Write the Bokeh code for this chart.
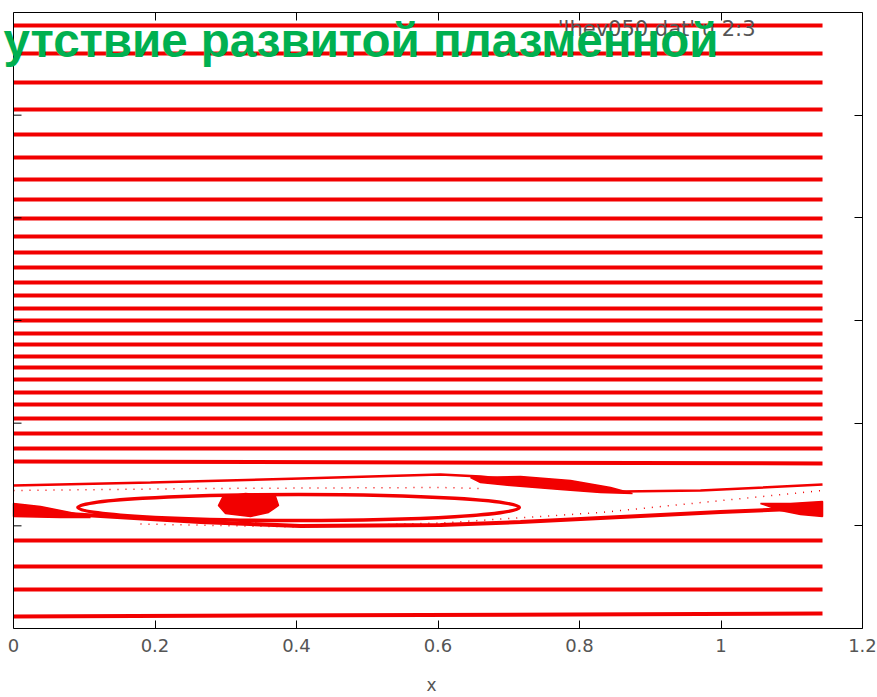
from bokeh.plotting import figure
from bokeh.models import LinearAxis, Range1d, Label, FixedTicker, Span
from bokeh.embed import file_html
from bokeh.resources import INLINE

# ---------------- data ----------------
X_TICKS = [0, 0.2, 0.4, 0.6, 0.8, 1.0, 1.2]
Y_TICKS = [0.2, 0.4, 0.6, 0.8, 1.0]

# extent of the traced field lines in x
x_start = 0.0
x_end = 1.1435

# y of each open field line at the left and right ends
line_y_left = [1.1747, 1.1202, 1.0637, 1.0111, 0.9624, 0.9176, 0.8747, 0.8357,
               0.7987, 0.7637, 0.7325, 0.7033, 0.6740, 0.6487, 0.6234, 0.6000,
               0.5747, 0.5533, 0.5299, 0.5085, 0.4851, 0.4598, 0.4364, 0.4091,
               0.3799, 0.3507, 0.3253, 0.1714, 0.1208, 0.0760, 0.0234]
line_y_right = [1.1747, 1.1202, 1.0637, 1.0111, 0.9624, 0.9176, 0.8747, 0.8357,
                0.7987, 0.7637, 0.7325, 0.7033, 0.6740, 0.6487, 0.6234, 0.6000,
                0.5747, 0.5533, 0.5299, 0.5085, 0.4851, 0.4598, 0.4364, 0.4091,
                0.3799, 0.3507, 0.3214, 0.1714, 0.1208, 0.0760, 0.0292]

# upper bounding curve of the island chain
upper_x = [0.0, 0.1936, 0.4057, 0.6035, 0.6601, 0.7731, 0.8580, 0.9710, 1.1435]
upper_y = [0.2788, 0.2844, 0.2922, 0.3000, 0.2961, 0.2805, 0.2669, 0.2688, 0.2805]

# lower bounding curve of the island chain
lower_x = [0.0, 0.1230, 0.2643, 0.4057, 0.6035, 0.7166, 0.8580, 0.9993, 1.1435]
lower_y = [0.2299, 0.2192, 0.2075, 0.1997, 0.2016, 0.2075, 0.2172, 0.2270, 0.2353]

# separatrix (sparse dotted points)
sep_up_x = [0.0, 0.2643, 0.6035, 0.6601]
sep_up_y = [0.2688, 0.2727, 0.2747, 0.2727]
sep_lo_x = [0.1795, 0.4057, 0.6035, 0.8297, 1.1435]
sep_lo_y = [0.2035, 0.1977, 0.2055, 0.2259, 0.2688]

# main island (O-point and size)
island_x = [0.4030]
island_y = [0.2357]
island_w = [0.6240]
island_h = [0.0507]

# chaotic clusters (outlines)
blob_in_x = [0.2954, 0.3279, 0.3703, 0.3746, 0.3604, 0.3350, 0.2997, 0.2897]
blob_in_y = [0.2552, 0.2630, 0.2572, 0.2396, 0.2260, 0.2182, 0.2240, 0.2396]
comet_x = [0.6460, 0.7166, 0.7873, 0.8439, 0.8749, 0.8297, 0.7731, 0.7024, 0.6601]
comet_y = [0.2941, 0.2961, 0.2883, 0.2747, 0.2630, 0.2650, 0.2708, 0.2786, 0.2844]
edge_r_x = [1.0558, 1.0983, 1.1435, 1.1435, 1.1124, 1.0841]
edge_r_y = [0.2435, 0.2435, 0.2474, 0.2182, 0.2221, 0.2299]
edge_l_x = [0.0, 0.0382, 0.0806, 0.1088, 0.0664, 0.0]
edge_l_y = [0.2435, 0.2377, 0.2260, 0.2162, 0.2162, 0.2182]

TITLE = "утствие развитой плазменной"
KEY = "'lhev050.dat' u 2:3"

RED = "#f20000"
PX = 1.0 / 707.5          # data units per screen pixel in x
TICK_LEN = 8 * PX

# ---------------- figure ----------------
# frame reaches the canvas' left edge so the overlaid title is not clipped;
# the y-axis line is drawn at x = 0.
p = figure(width=877, height=697, x_range=Range1d(-13 * PX, 1.2), y_range=Range1d(0, 1.2),
           output_backend="svg", toolbar_location=None, y_axis_location="right",
           min_border_left=0, min_border_right=15, min_border_top=12, min_border_bottom=69)
p.grid.visible = False
p.outline_line_color = None
p.background_fill_color = "white"
p.border_fill_color = "white"

# field lines
p.multi_line(xs=[[x_start, x_end] for _ in line_y_left],
             ys=[[a, b] for a, b in zip(line_y_left, line_y_right)],
             line_color=RED, line_width=4)

p.line(upper_x, upper_y, line_color=RED, line_width=2.5)
p.line(lower_x, lower_y, line_color=RED, line_width=4)
p.line(sep_up_x, sep_up_y, line_color=RED, line_width=1.5, line_dash="1 7")
p.line(sep_lo_x, sep_lo_y, line_color=RED, line_width=1.5, line_dash="1 7")
p.ellipse(x=island_x, y=island_y, width=island_w, height=island_h,
          fill_color=None, line_color=RED, line_width=3.5)
p.patches(xs=[blob_in_x, comet_x, edge_r_x, edge_l_x],
          ys=[blob_in_y, comet_y, edge_r_y, edge_l_y],
          fill_color=RED, line_color=RED, line_width=1.5)

# axes styling
def style_axis(ax, show_labels):
    ax.axis_line_color = "black"
    ax.axis_line_width = 1
    ax.major_tick_line_color = "black"
    ax.major_tick_in = 8
    ax.major_tick_out = 0
    ax.minor_tick_line_color = None
    if show_labels:
        ax.major_label_text_font = "DejaVu Sans"
        ax.major_label_text_font_size = "18px"
        ax.major_label_text_color = "#555555"
        ax.major_label_standoff = 10
    else:
        ax.major_label_text_font_size = "0px"
        ax.major_label_text_color = None
        ax.major_label_standoff = 0

xb = p.xaxis[0]
xb.ticker = FixedTicker(ticks=X_TICKS)
xb.bounds = (0, 1.2)
style_axis(xb, True)
xb.axis_label = "x"
xb.axis_label_text_font = "DejaVu Sans"
xb.axis_label_text_font_style = "normal"
xb.axis_label_text_font_size = "17px"
xb.axis_label_text_color = "#555555"
xb.axis_label_standoff = 20

yr = p.yaxis[0]
yr.ticker = FixedTicker(ticks=Y_TICKS)
style_axis(yr, False)

xa = LinearAxis(ticker=FixedTicker(ticks=X_TICKS), bounds=(0, 1.2))
style_axis(xa, False)
p.add_layout(xa, "above")

# left axis line with inward ticks
p.add_layout(Span(location=0, dimension="height", line_color="black", line_width=1))
p.segment(x0=[0] * len(Y_TICKS), y0=Y_TICKS, x1=[TICK_LEN] * len(Y_TICKS), y1=Y_TICKS,
          line_color="black", line_width=1)

# key text
p.add_layout(Label(x=1.0488, y=1.1688, text=KEY, text_align="right", text_baseline="middle",
                   text_font="DejaVu Sans", text_font_size="21px", text_color="#555555"))
# overlaid slide title
p.add_layout(Label(x=-10 * PX, y=1.1455, text=TITLE, text_align="left", text_baseline="alphabetic",
                   text_font="Liberation Sans", text_font_style="bold", text_font_size="47.5px",
                   text_color="#00b050"))

open("out.html", "w").write(file_html(p, INLINE))
